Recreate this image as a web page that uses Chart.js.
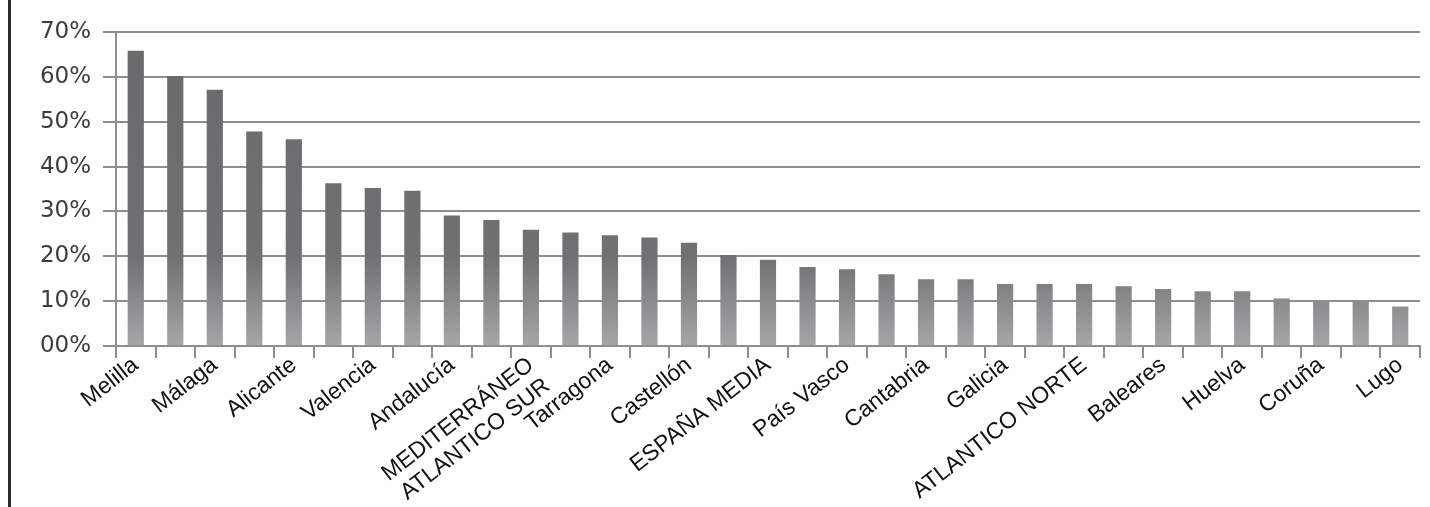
<!DOCTYPE html>
<html>
<head>
<meta charset="utf-8">
<script src="https://cdn.jsdelivr.net/npm/chart.js@4/dist/chart.umd.min.js"></script>
<style>
  html, body { margin: 0; padding: 0; background: #fff; }
  #wrap { position: relative; width: 1430px; height: 507px; }
  #edge { position: absolute; left: 8px; top: 0; width: 3px; height: 507px; background: #2b2b2b; }
</style>
</head>
<body>
<div id="wrap">
  <div id="edge"></div>
  <canvas id="ratioChart"></canvas>
</div>
<script>
// only every other category name is printed in the source; unprinted ones left blank
var categories = [
  'Melilla', '', 'Málaga', '', 'Alicante', '', 'Valencia', '', 'Andalucía', '',
  ['MEDITERRÁNEO', 'ATLANTICO SUR'], '', 'Tarragona', '', 'Castellón', '',
  'ESPAÑA MEDIA', '', 'País Vasco', '', 'Cantabria', '', 'Galicia', '',
  'ATLANTICO NORTE', '', 'Baleares', '', 'Huelva', '', 'Coruña', '', 'Lugo'
];
var values = [
  65.8, 60.2, 57.1, 47.8, 46.1, 36.3, 35.2, 34.6, 29.1, 28.1,
  25.9, 25.3, 24.7, 24.2, 23.0, 20.3, 19.2, 17.6, 17.1, 16.0,
  14.9, 14.9, 13.8, 13.8, 13.8, 13.3, 12.7, 12.2, 12.2, 10.6,
  9.9, 9.9, 8.8
];
var yTickLabels = ['00%', '10%', '20%', '30%', '40%', '50%', '60%', '70%'];

document.addEventListener('DOMContentLoaded', function () {
    var ctx = document.getElementById('ratioChart').getContext('2d');

    function barFill(context) {
        var area = context.chart.chartArea;
        if (!area) return '#707073';
        var g = context.chart.ctx.createLinearGradient(0, area.top, 0, area.bottom);
        g.addColorStop(0, '#69696c');
        g.addColorStop(0.72, '#717174');
        g.addColorStop(1, '#a6a6a9');
        return g;
    }

    var ratioChart = new Chart(ctx, {
        type: 'bar',
        data: {
            labels: categories,
            datasets: [{
                data: values,
                backgroundColor: barFill,
                borderWidth: 0,
                barPercentage: 0.41,
                categoryPercentage: 1
            }]
        },
        options: {
            responsive: true,
            maintainAspectRatio: false,
            animation: false,
            layout: { padding: { left: 38, right: 10, top: 32, bottom: 0 } },
            plugins: { legend: { display: false }, tooltip: { enabled: false } },
            scales: {
                x: {
                    grid: {
                        offset: true,
                        drawOnChartArea: false,
                        drawTicks: true,
                        tickLength: 12,
                        color: '#8e8e8e',
                        lineWidth: 2
                    },
                    border: { display: true, color: '#8e8e8e', width: 2 },
                    ticks: {
                        autoSkip: false,
                        minRotation: 38,
                        maxRotation: 38,
                        padding: -6,
                        color: '#111',
                        font: { family: '"Liberation Sans", Arial, sans-serif', size: 23, lineHeight: 1.15 }
                    },
                    afterFit: function (scale) { scale.height = 161; }
                },
                y: {
                    min: 0,
                    max: 70,
                    grid: { color: '#8e8e8e', lineWidth: 2, tickLength: 13 },
                    border: { display: true, color: '#8e8e8e', width: 2 },
                    ticks: {
                        stepSize: 10,
                        padding: 12,
                        color: '#3c3c3c',
                        font: { family: '"DejaVu Sans", sans-serif', size: 23 },
                        callback: function (v, i) { return yTickLabels[i]; }
                    },
                    afterFit: function (scale) { scale.width = 78; }
                }
            }
        }
    });
});
</script>
</body>
</html>
